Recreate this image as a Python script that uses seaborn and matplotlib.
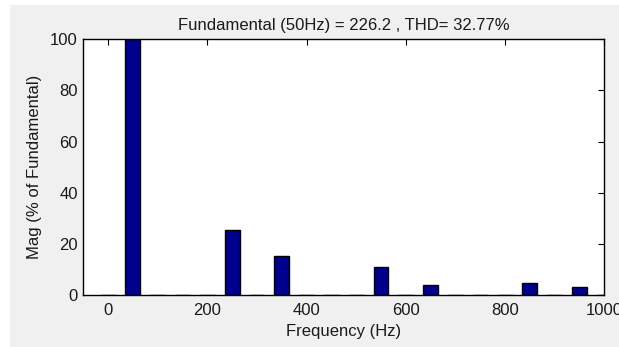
import matplotlib
matplotlib.use("Agg")
import matplotlib.pyplot as plt
import seaborn as sns
import pandas as pd
from matplotlib.patches import Rectangle

# Harmonic spectrum (magnitude as % of the 50 Hz fundamental)
freqs_hz = [0, 50, 100, 150, 200, 250, 300, 350, 400, 450, 500,
            550, 600, 650, 700, 750, 800, 850, 900, 950, 1000]
mag_pct = [0, 100, 0, 0, 0, 25.5, 0, 15.2, 0, 0, 0,
           11.0, 0, 4.0, 0, 0, 0, 4.8, 0, 3.2, 0]
x_ticks = [0, 200, 400, 600, 800, 1000]
y_ticks = [0, 20, 40, 60, 80, 100]
title_text = "Fundamental (50Hz) = 226.2 , THD= 32.77%"

df = pd.DataFrame({"freq": freqs_hz, "mag": mag_pct})

sns.set_style("white")
plt.rcParams["font.family"] = ["Liberation Sans", "DejaVu Sans"]

fig = plt.figure(figsize=(6.19, 3.47), dpi=100, facecolor="#f0f0f0")
# white margin strips along the top and left edges
fig.patches.append(Rectangle((0, 1 - 5 / 347), 1, 5 / 347, transform=fig.transFigure,
                             facecolor="white", edgecolor="none", zorder=0))
fig.patches.append(Rectangle((0, 0), 10 / 619, 1, transform=fig.transFigure,
                             facecolor="white", edgecolor="none", zorder=0))

ax = fig.add_axes([83.3 / 619, 1 - 295 / 347, (604.3 - 83.3) / 619, (295 - 39.3) / 347])
ax.set_facecolor("white")

sns.barplot(data=df, x="freq", y="mag", native_scale=True, width=0.6,
            color="#00008f", saturation=1, edgecolor="black", linewidth=1.0,
            ax=ax)

ax.set_xlim(-50, 1000)
ax.set_ylim(0, 100)
ax.set_xticks(x_ticks)
ax.set_yticks(y_ticks)
ax.set_xticklabels([str(t) for t in x_ticks])
ax.set_yticklabels([str(t) for t in y_ticks])

text_color = "#1a1a1a"
fs = 12
ax.tick_params(direction="in", top=True, right=True, length=4, width=0.8,
               colors="black", labelcolor=text_color, labelsize=fs)
ax.tick_params(axis="x", pad=6)
ax.tick_params(axis="y", pad=4)
for s in ax.spines.values():
    s.set_visible(True)
    s.set_color("black")
    s.set_linewidth(1.0)

ax.set_xlabel("Frequency (Hz)", fontsize=fs, color=text_color, labelpad=4)
ax.set_ylabel("Mag (% of Fundamental)", fontsize=fs, color=text_color, labelpad=6)
ax.set_title(title_text, fontsize=fs, color=text_color, pad=7)

fig.savefig("out.png", dpi=100, facecolor=fig.get_facecolor())
